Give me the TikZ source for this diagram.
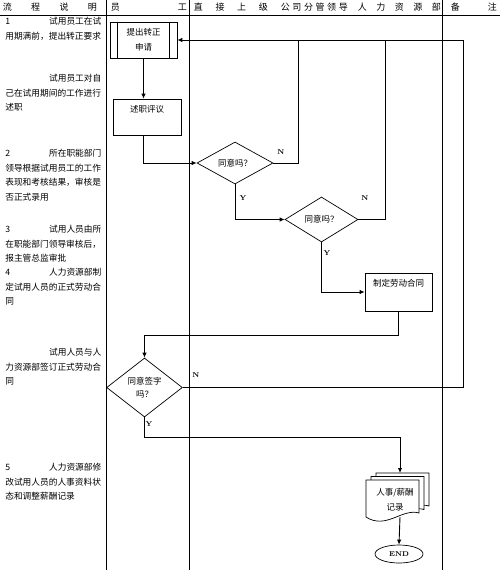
\documentclass[tikz,border=0pt]{standalone}
\usepackage{fontspec}
\newfontfamily\cjk{Noto Sans CJK SC}
\usetikzlibrary{shapes.geometric,arrows.meta}

\begin{document}
\begin{tikzpicture}[x=1pt, y=-1pt, line width=0.7pt,
  flow/.style={line width=0.9pt, -{Latex[length=5pt,width=4.5pt]}},
  note/.style={anchor=north west, inner sep=0pt, text width=96pt, align=left,
    font=\cjk\fontsize{8.7}{14.6}\selectfont},
  head/.style={anchor=west, inner sep=0pt, align=left, font=\cjk\fontsize{9}{11}\selectfont},
  box/.style={draw, rectangle, inner sep=0pt, align=center, font=\cjk\fontsize{8.5}{15}\selectfont},
  boxtext/.style={inner sep=0pt, font=\cjk\fontsize{8.5}{15}\selectfont},
  check/.style={draw, diamond, aspect=2, inner sep=0pt, align=center, font=\cjk\fontsize{8.5}{13}\selectfont},
  yn/.style={inner sep=0pt, font=\fontsize{7}{8}\selectfont\bfseries}]
  \useasboundingbox (0,0) rectangle (500,584);

  % table rules: header line and column lines
  \draw[line width=0.6pt] (0,15) -- (500,15);
  \foreach \x in {106.5,189.5,442.5}
    \draw[line width=0.6pt] (\x,0) -- (\x,570);

  % header
  \node[head, text width=94pt] (hflow) at (2.5,7) {流\hfill 程\hfill 说\hfill 明};
  \node[head, text width=76pt] (hstaff) at (110.5,7) {员\hfill 工};
  \node[head, text width=74pt] (hboss) at (193.5,7) {直\hfill 接\hfill 上\hfill 级};
  \node[head, text width=67pt] (hlead) at (280.5,7) {公\hfill 司\hfill 分\hfill 管\hfill 领\hfill 导};
  \node[head, text width=83pt] (hhr) at (357.5,7) {人\hfill 力\hfill 资\hfill 源\hfill 部};
  \node[head, text width=46pt] (hnote) at (450.5,7) {备\hfill 注};

  % flow description, left column
  \node[note] (s1) at (5,17) {1\hfill 试用员工在试\\用期满前，提出转正要求};
  \node[note] (s1b) at (5,74) {\hfill 试用员工对自\\己在试用期间的工作进行\\述职};
  \node[note] (s2) at (5,149) {2\hfill 所在职能部门\\领导根据试用员工的工作\\表现和考核结果，审核是\\否正式录用};
  \node[note] (s3) at (5,225) {3\hfill 试用人员由所\\在职能部门领导审核后，\\报主管总监审批};
  \node[note] (s4) at (5,268) {4\hfill 人力资源部制\\定试用人员的正式劳动合\\同};
  \node[note] (s4b) at (5,348) {\hfill 试用人员与人\\力资源部签订正式劳动合\\同};
  \node[note] (s5) at (5,463) {5\hfill 人力资源部修\\改试用人员的人事资料状\\态和调整薪酬记录};

  % process boxes
  \node[box, minimum width=67pt, minimum height=36pt] (apply) at (143.5,40) {提出转正\\申请};
  \draw ([xshift=8pt]apply.north west) -- ([xshift=8pt]apply.south west);
  \draw ([xshift=-8pt]apply.north east) -- ([xshift=-8pt]apply.south east);

  \node[box, minimum width=68pt, minimum height=36pt] (review) at (147,117) {};
  \node[boxtext] (reviewtxt) at ([yshift=-11pt]review.north) {述职评议};

  \node[check, minimum width=76pt, minimum height=42pt] (agree1) at (235,163) {同意吗？};
  \node[check, minimum width=73pt, minimum height=45pt] (agree2) at (321.5,219.5) {同意吗？};

  \node[box, minimum width=67pt, minimum height=38pt] (contract) at (398.5,292) {};
  \node[boxtext] (contracttxt) at ([yshift=-11pt]contract.north) {制定劳动合同};

  \node[check, minimum width=75pt, minimum height=59pt] (sign) at (144.5,387.5) {同意签字\\吗？};

  % record: stack of documents
  \foreach \dx/\dy in {10/-7, 5/-3.5, 0/0}
    \draw[fill=white, shift={(\dx,\dy)}] (366,480) -- (419,480) -- (419,513)
      .. controls (402,508) and (386,530) .. (366,517) -- cycle;
  \node[boxtext, align=center] (record) at (395,499.5) {人事/薪酬\\记录};
  \coordinate (stacktop) at (400,473);
  \coordinate (stackbot) at (400,517);

  \node[draw, ellipse, minimum width=48pt, minimum height=18pt, inner sep=0pt,
    font=\fontsize{7}{8}\selectfont\bfseries] (finish) at (399,554) {END};

  % return lines (N)
  \coordinate (ret) at (463,40);
  \coordinate (ret1) at (298,40);
  \coordinate (ret2) at (385,40);
  \draw[flow] (sign.east) -| (ret) -- (apply.east);
  \draw (agree1.east) -| (ret1);
  \draw (agree2.east) -| (ret2);

  % main flow
  \draw[flow] (apply.south) -- (apply.south |- review.north);
  \draw[flow] (apply.south |- review.south) |- (agree1.west);
  \draw[flow] (agree1.south) |- (agree2.west);
  \draw[flow] (agree2.south) |- (contract.west);
  \draw[flow] (contract.south) -- ++(0,24) -| (sign.north);
  \draw[flow] (sign.south) -- ++(0,20) -| (stacktop);
  \draw[flow] (stackbot) -- (finish.north);

  % Y / N labels
  \node[yn] (n1) at (281,152) {N};
  \node[yn] (n2) at (365,198) {N};
  \node[yn] (n3) at (196,375) {N};
  \node[yn] (y1) at (243,198) {Y};
  \node[yn] (y2) at (327,253) {Y};
  \node[yn] (y3) at (149,424) {Y};
\end{tikzpicture}
\end{document}
